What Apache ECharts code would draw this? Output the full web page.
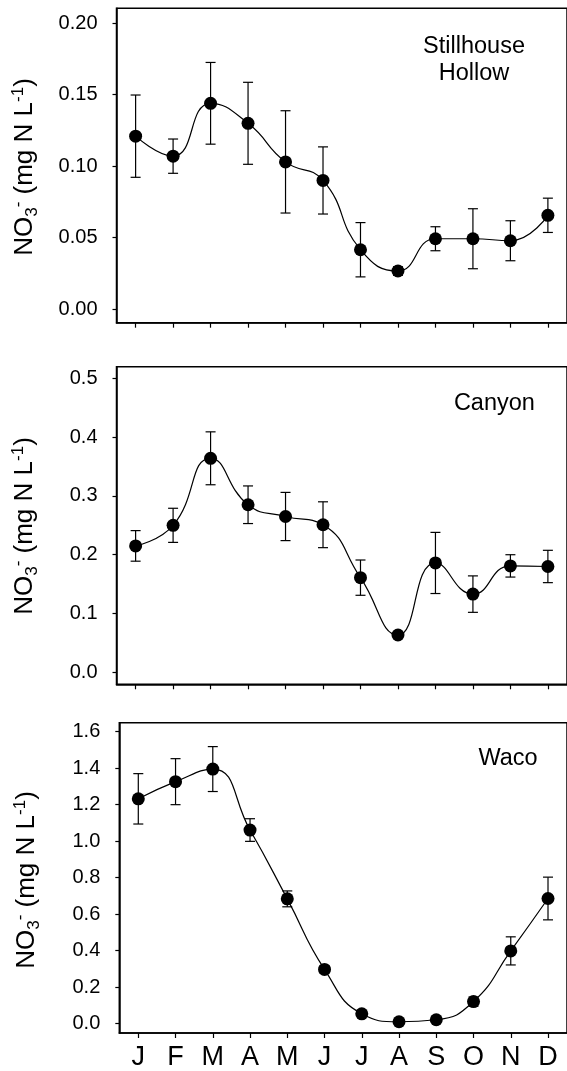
<!DOCTYPE html>
<html>
<head>
<meta charset="utf-8">
<script src="https://cdn.jsdelivr.net/npm/echarts@6/dist/echarts.min.js"></script>
<style>
html,body{margin:0;padding:0;background:#fff;}
#chart{width:567px;height:1071px;}
</style>
</head>
<body>
<div id="chart"></div>
<script>
// ---- data ----
const months = ['J','F','M','A','M','J','J','A','S','O','N','D'];

const stillhouseMean = [0.121, 0.107, 0.144, 0.130, 0.103, 0.090, 0.0415, 0.0266, 0.0492, 0.0492, 0.0478, 0.0656];
const stillhouseErr  = [0.0288, 0.012, 0.0286, 0.0287, 0.0358, 0.0235, 0.019, 0.003, 0.0084, 0.021, 0.014, 0.012];

const canyonMean = [0.215, 0.250, 0.364, 0.285, 0.265, 0.251, 0.161, 0.0635, 0.186, 0.133, 0.181, 0.180];
const canyonErr  = [0.026, 0.029, 0.045, 0.032, 0.041, 0.039, 0.030, 0.004, 0.052, 0.031, 0.019, 0.0275];

const wacoMean = [1.232, 1.326, 1.395, 1.061, 0.684, 0.2975, 0.0544, 0.0109, 0.0218, 0.1215, 0.399, 0.686];
const wacoErr  = [0.138, 0.126, 0.123, 0.062, 0.0435, 0.02, 0.01, 0.01, 0.01, 0.025, 0.077, 0.117];

const stillhouseTicks = [0, 0.05, 0.10, 0.15, 0.20];
const canyonTicks = [0, 0.1, 0.2, 0.3, 0.4, 0.5];
const wacoTicks = [0, 0.2, 0.4, 0.6, 0.8, 1.0, 1.2, 1.4, 1.6];

const panelTitles = ['Stillhouse\nHollow', 'Canyon', 'Waco'];

// ---- chart ----
const FONT = "'Liberation Sans', Arial, sans-serif";
const monthIdx = months.map((m, i) => i);

const panels = [
  {mean: stillhouseMean, err: stillhouseErr, ticks: stillhouseTicks, dec: 2, min: -0.00957, max: 0.2105,
   grid: {left: 116.5, top: 8.3, width: 452, height: 314.4}},
  {mean: canyonMean, err: canyonErr, ticks: canyonTicks, dec: 1, min: -0.0204, max: 0.5198,
   grid: {left: 116.5, top: 366.7, width: 452, height: 317.6}},
  {mean: wacoMean, err: wacoErr, ticks: wacoTicks, dec: 1, min: -0.0508, max: 1.649,
   grid: {left: 119.3, top: 722.7, width: 449.3, height: 312.3}}
];

const grids = [], xAxes = [], yAxes = [], series = [];
panels.forEach((p, k) => {
  grids.push(Object.assign({show: true, borderColor: '#000', borderWidth: 1.5, backgroundColor: 'transparent'}, p.grid));
  xAxes.push({
    type: 'value', gridIndex: k, min: -0.51, max: 11.51,
    splitLine: {show: false},
    axisLine: {show: true, onZero: false, lineStyle: {color: '#000', width: 1.5}},
    axisTick: {show: true, length: 5, lineStyle: {color: '#000', width: 1.2}, customValues: monthIdx},
    axisLabel: {show: k === 2, customValues: monthIdx, formatter: v => months[Math.round(v)],
      fontFamily: FONT, fontSize: 27, color: '#000', margin: 11}
  });
  yAxes.push({
    type: 'value', gridIndex: k, min: p.min, max: p.max,
    splitLine: {show: false},
    axisLine: {show: true, onZero: false, lineStyle: {color: '#000', width: 1.5}},
    axisTick: {show: true, length: 4, lineStyle: {color: '#000', width: 1.2}, customValues: p.ticks},
    axisLabel: {customValues: p.ticks, formatter: v => v.toFixed(p.dec),
      fontFamily: FONT, fontSize: 20, color: '#000', margin: 19}
  });
  series.push({
    type: 'custom', xAxisIndex: k, yAxisIndex: k, z: 2,
    data: p.mean.map((v, i) => [i, v, p.err[i]]),
    renderItem: function (params, api) {
      const x = api.value(0), y = api.value(1), e = api.value(2);
      const t = api.coord([x, y + e]);
      const b = api.coord([x, y - e]);
      const hw = 5;
      const st = {stroke: '#000', lineWidth: 1.2};
      return {type: 'group', children: [
        {type: 'line', shape: {x1: t[0], y1: t[1], x2: b[0], y2: b[1]}, style: st},
        {type: 'line', shape: {x1: t[0] - hw, y1: t[1], x2: t[0] + hw, y2: t[1]}, style: st},
        {type: 'line', shape: {x1: b[0] - hw, y1: b[1], x2: b[0] + hw, y2: b[1]}, style: st}
      ]};
    }
  });
  series.push({
    type: 'line', xAxisIndex: k, yAxisIndex: k, z: 3,
    data: p.mean.map((v, i) => [i, v]),
    smooth: 0.5,
    symbol: 'circle', symbolSize: 13,
    itemStyle: {color: '#000'},
    lineStyle: {color: '#000', width: 1.2},
    animation: false
  });
});

const ytRich = {
  n: {fontFamily: FONT, fontSize: 26, color: '#000', lineHeight: 31},
  sub: {fontFamily: FONT, fontSize: 17, color: '#000', lineHeight: 16, verticalAlign: 'bottom'},
  sup: {fontFamily: FONT, fontSize: 17, color: '#000', lineHeight: 16, verticalAlign: 'top'}
};
const ytText = '{n|NO}{sub|3}{sup|-}{n| (mg N L}{sup|-1}{n|)}';
const ytPos = [[25, 167], [25, 526], [27, 880]];
const titlePos = [[474, 60], [494.4, 403.3], [508, 758.3]];

const graphic = [];
ytPos.forEach(pos => {
  graphic.push({type: 'text', x: pos[0], y: pos[1], rotation: Math.PI / 2, z: 10,
    style: {text: ytText, rich: ytRich, align: 'center', verticalAlign: 'middle'}});
});
panelTitles.forEach((t, k) => {
  graphic.push({type: 'text', x: titlePos[k][0], y: titlePos[k][1], z: 10,
    style: {text: t, fontFamily: FONT, fontSize: 23.5, fill: '#000', align: 'center', verticalAlign: 'middle', lineHeight: 27}});
});

const chart = echarts.init(document.getElementById('chart'), null, {renderer: 'canvas'});
chart.setOption({
  animation: false,
  backgroundColor: '#fff',
  grid: grids, xAxis: xAxes, yAxis: yAxes, series: series, graphic: graphic
});
</script>
</body>
</html>
